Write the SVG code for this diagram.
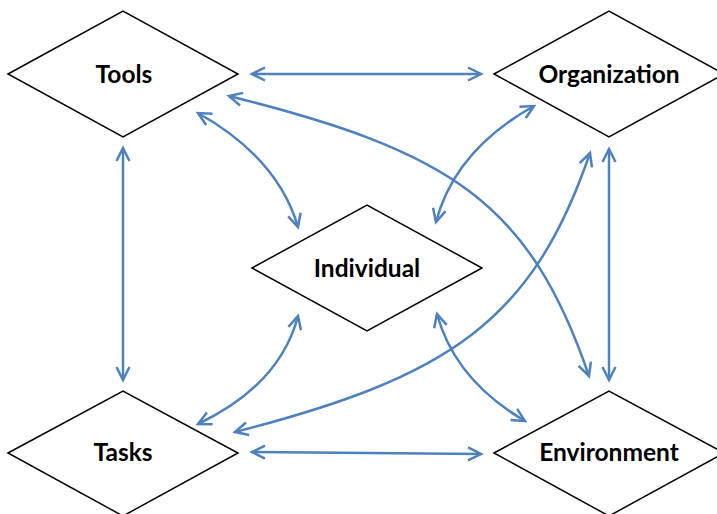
<svg xmlns="http://www.w3.org/2000/svg" width="717" height="514" viewBox="0 0 717 514">
<style>
.node{fill:#fff;stroke:#000;stroke-width:1.5}
.lbl{font-family:Lato,"Open Sans","Liberation Sans",sans-serif;font-weight:bold;font-size:24.5px;text-anchor:middle;fill:#000}
.con{fill:none;stroke:#4F81BD;stroke-width:2.5;marker-start:url(#ah);marker-end:url(#ah)}
</style>
<defs>
<marker id="ah" markerUnits="userSpaceOnUse" markerWidth="20" markerHeight="20" viewBox="0 0 20 20" refX="16" refY="10" orient="auto-start-reverse" overflow="visible">
<path d="M3,3.5 L16,10 L3,16.5" fill="none" stroke="#4F81BD" stroke-width="2.5"/>
</marker>
</defs>
<rect width="717" height="514" fill="#fff"/>
<g id="connectors">
<path class="con" d="M252,74 L481,74"/>
<path class="con" d="M252,452 L481,454"/>
<path class="con" d="M123,148 L123,380"/>
<path class="con" d="M609,149 L609,380"/>
<path class="con" d="M198,113 Q278,158 298,227"/>
<path class="con" d="M534,106 Q455,150 436,222"/>
<path class="con" d="M198,424 Q280,385 298,316"/>
<path class="con" d="M525,421 Q455,380 437,314"/>
<path class="con" d="M229,96 C449,151 529,201 589,376"/>
<path class="con" d="M235,432 C449,377 532,322 590,153"/>
</g>
<g id="tools">
<polygon class="node" points="8,74 123,11 238,74 123,137"/>
<text class="lbl" x="124" y="83">Tools</text>
</g>
<g id="organization">
<polygon class="node" points="494,74 609,11 724,74 609,137"/>
<text class="lbl" x="609" y="83">Organization</text>
</g>
<g id="individual">
<polygon class="node" points="252,268 367,205 482,268 367,331"/>
<text class="lbl" x="367" y="277">Individual</text>
</g>
<g id="tasks">
<polygon class="node" points="8,453 123,391 238,453 123,516"/>
<text class="lbl" x="123" y="461">Tasks</text>
</g>
<g id="environment">
<polygon class="node" points="494,453 609,391 724,453 609,516"/>
<text class="lbl" x="609" y="461">Environment</text>
</g>
</svg>
